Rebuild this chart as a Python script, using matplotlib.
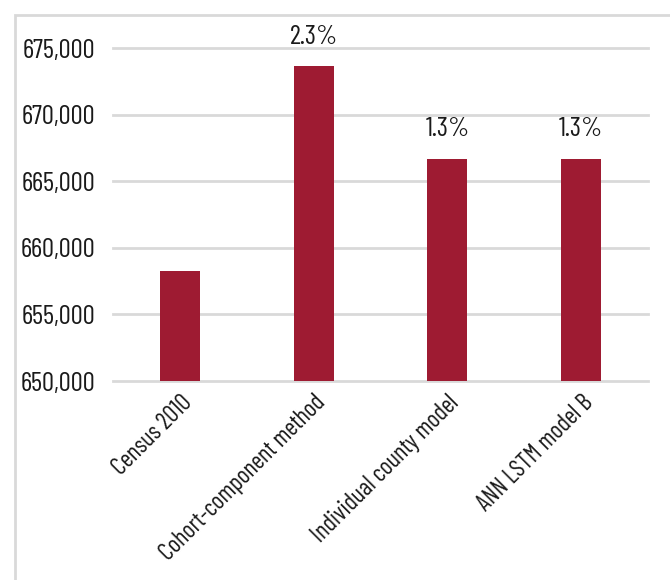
import matplotlib
matplotlib.use("Agg")
import matplotlib.pyplot as plt
from matplotlib.ticker import FuncFormatter
from matplotlib.patches import Rectangle
from matplotlib import font_manager

# projected population by method
methods = ["Census 2010", "Cohort-component method",
           "Individual county model", "ANN LSTM model B"]
population = [658300, 673650, 666700, 666700]
growth_labels = ["", "2.3%", "1.3%", "1.3%"]

# prefer a condensed face, fall back to the default one
names = {f.name for f in font_manager.fontManager.ttflist}
if "Barlow Condensed" in names:
    plt.rcParams["font.family"] = ["Barlow Condensed", "DejaVu Sans"]
    fs, fs_x = 19.5, 17.5
else:
    plt.rcParams["font.family"] = ["DejaVu Sans"]
    fs, fs_x = 12, 11

bar_color = "#9e1b32"
grid_color = "#d9d9d9"
text_color = "#1a1a1a"

fig = plt.figure(figsize=(6.7, 5.8), dpi=100)
ax = fig.add_axes([0.169, 0.343, 0.798, 0.574])

# light frame around the chart area
fig.patches.append(Rectangle((15 / 670, -0.1), 1.2, 1 - 15 / 580 + 0.1,
                             transform=fig.transFigure, fill=False,
                             edgecolor=grid_color, linewidth=2))

x = range(len(methods))
bars = ax.bar(x, population, width=0.3, color=bar_color, zorder=3)

for b, lab in zip(bars, growth_labels):
    if lab:
        ax.text(b.get_x() + b.get_width() / 2, b.get_height() + 1300, lab,
                ha="center", va="bottom", fontsize=fs, color=text_color)

ax.set_ylim(650000, 675000)
ax.set_xlim(-0.5, 3.5)
ax.set_yticks(range(650000, 675001, 5000))
ax.yaxis.set_major_formatter(FuncFormatter(lambda v, p: f"{int(v):,}"))
ax.yaxis.grid(True, color=grid_color, linewidth=2, zorder=0)
ax.set_axisbelow(True)
for gl in ax.get_ygridlines():
    gl.set_clip_on(False)

ax.set_xticks(list(x))
ax.set_xticklabels(methods, rotation=45, ha="right", rotation_mode="anchor",
                   fontsize=fs_x, color=text_color)
ax.tick_params(axis="y", labelsize=fs, labelcolor=text_color, length=0, pad=13)
ax.tick_params(axis="x", length=0, pad=7)

for s in ax.spines.values():
    s.set_visible(False)

fig.savefig("out.png", dpi=100)
